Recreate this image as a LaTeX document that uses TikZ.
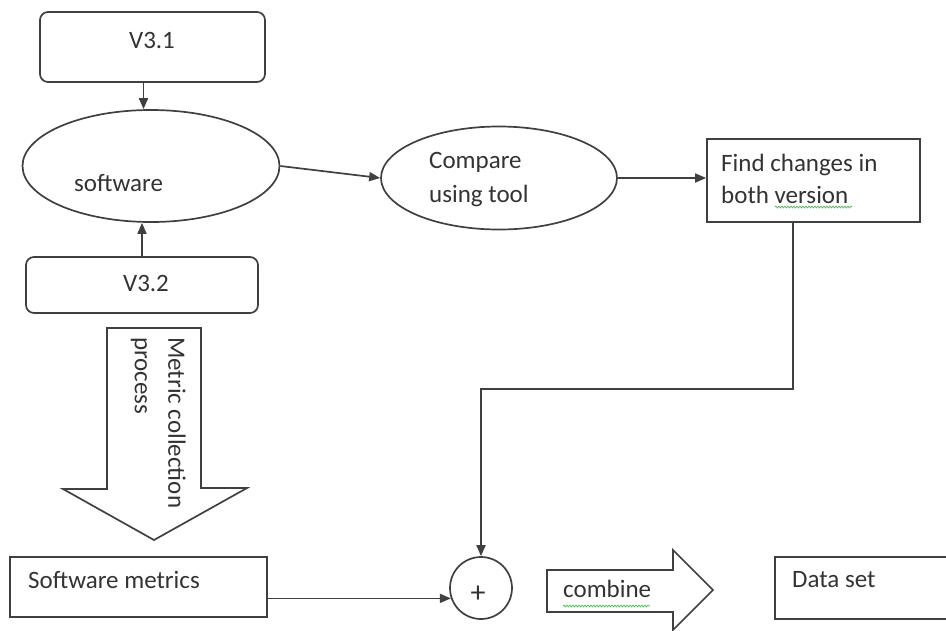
\documentclass[tikz,border=0pt]{standalone}
\usepackage{fontspec}
\setmainfont{Carlito}
\usetikzlibrary{shapes.geometric,arrows.meta,decorations.pathmorphing}
\definecolor{ink}{HTML}{404040}
\definecolor{txt}{HTML}{333333}
\definecolor{spell}{HTML}{5DBB63}
\begin{document}
\begin{tikzpicture}[x=1pt,y=-1pt,
  every node/.style={text=txt},
  shapeline/.style={draw=ink, line width=1.7pt},
  rbox/.style={shapeline, rectangle, rounded corners=8pt, inner sep=0pt},
  sbox/.style={shapeline, rectangle, inner sep=0pt},
  ell/.style={shapeline, ellipse, inner sep=0pt},
  lbl/.style={font=\fontsize{25}{32}\selectfont, inner sep=0pt, align=left},
  conn/.style={draw=ink, line width=1.7pt, -{Triangle[length=11pt,width=9pt]}},
  squiggle/.style={draw=spell, line width=0.8pt, decorate,
    decoration={snake, amplitude=0.9pt, segment length=3pt}}
]
% page frame
\path[use as bounding box] (0,0) rectangle (946,630);
\clip (0,0) rectangle (946,630);

% two versions feeding the software ellipse
\node[rbox, minimum width=225pt, minimum height=70pt] (v31) at (152.5,47) {};
\node[lbl] (v31t) at (152,40) {V3.1};
\node[ell, minimum width=257pt, minimum height=112pt] (soft) at (151,166) {};
\node[lbl, anchor=west] (softt) at (74,183) {software};
\node[rbox, minimum width=232pt, minimum height=56pt] (v32) at (142,285) {};
\node[lbl] (v32t) at (146,283) {V3.2};

% comparison stage
\node[ell, minimum width=236pt, minimum height=103pt] (cmp) at (499,178) {};
\node[lbl, anchor=west, font=\fontsize{25}{34}\selectfont] (cmpt) at (429,180) {Compare\\using tool};
\node[sbox, minimum width=213pt, minimum height=83pt] (find) at (813.5,180.5) {};
\node[lbl, anchor=west] (findt) at (721,179) {Find changes in\\both version};
\draw[squiggle] (775,207) -- (852,207);

% metric collection block arrow
\draw[shapeline, line join=miter] (107,328) -- (201,328) -- (201,488) -- (247,488)
  -- (154,540) -- (63,489) -- (107,489) -- cycle;
\node[lbl, rotate=-90, anchor=west] (mc1) at (177,337) {Metric collection};
\node[lbl, rotate=-90, anchor=west] (mc2) at (139,337) {process};

% bottom row
\node[sbox, minimum width=257pt, minimum height=60pt] (sm) at (138.5,587) {};
\node[lbl, anchor=west] (smt) at (28,580) {Software metrics};
\node[shapeline, circle, minimum size=62pt, inner sep=0pt] (plus) at (481,588) {};
\node[lbl, font=\fontsize{30}{32}\selectfont] (plust) at (478,594) {+};
\draw[shapeline, line join=miter] (547,570) -- (673,570) -- (673,550) -- (713,590)
  -- (673,630) -- (673,612) -- (547,612) -- cycle;
\node[lbl, anchor=west] (combt) at (563,589) {combine};
\draw[squiggle] (563,606) -- (650,606);
\node[sbox, minimum width=185pt, minimum height=62pt] (data) at (867.5,588) {};
\node[lbl, anchor=west] (datat) at (792,580) {Data set};

% connectors
\draw[conn] ([xshift=-9pt]v31.south) -- ([xshift=-9pt]v31.south |- soft.north);
\draw[conn] (v32.north) -- (v32.north |- soft.south);
\draw[conn] (soft.east) -- (cmp.west);
\draw[conn] (cmp.east) -- (cmp.east -| find.west);
\coordinate (elbowA) at (793,389);
\coordinate (elbowB) at (481,389);
\draw[conn, line join=miter] (find.south -| elbowA) -- (elbowA) -- (elbowB) -- (plus.north);
\draw[conn] (sm.east |- plus.199) -- (plus.199);
\end{tikzpicture}
\end{document}
